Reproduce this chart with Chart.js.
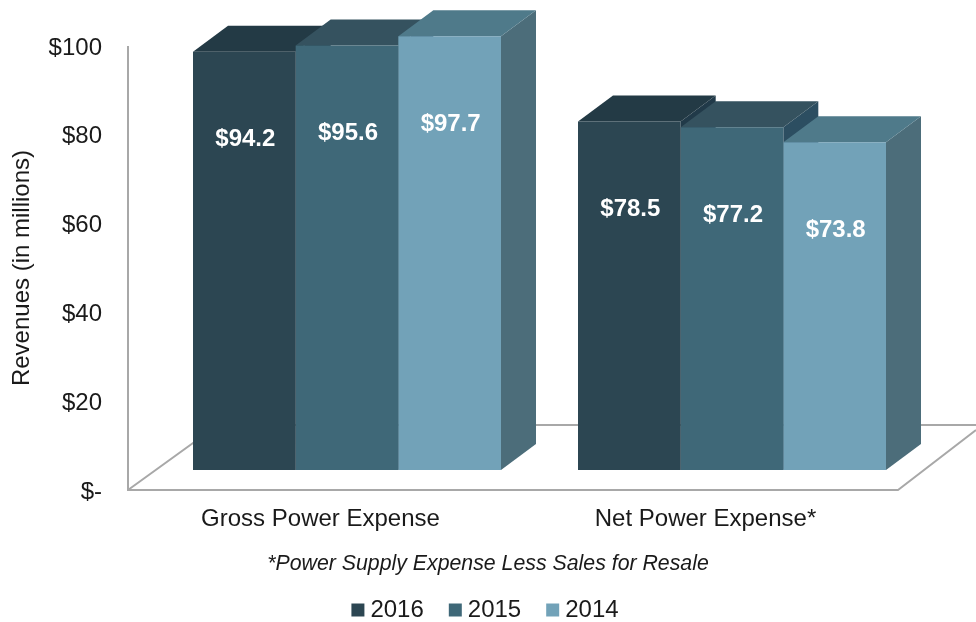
<!DOCTYPE html>
<html>
<head>
<meta charset="utf-8">
<style>
  html, body { margin: 0; padding: 0; background: #fff; }
  #wrap { width: 976px; height: 622px; }
</style>
<script src="https://cdn.jsdelivr.net/npm/chart.js@4"></script>
</head>
<body>
<div id="wrap"><canvas id="miGrafico"></canvas></div>
<script>
const categorias = ['Gross Power Expense', 'Net Power Expense*'];
const anios = ['2016', '2015', '2014'];
const valores2016 = [94.2, 78.5];
const valores2015 = [95.6, 77.2];
const valores2014 = [97.7, 73.8];
const coloresFrente = ['#2c4652', '#3f6878', '#72a2b8'];
const coloresTapa = ['#233a45', '#35525f', '#4f7a8a'];
const coloresLado = ['#213a49', '#2c4e61', '#4c6d7a'];
const nota = '*Power Supply Expense Less Sales for Resale';

const FUENTE = '"Liberation Sans", Arial, sans-serif';
const FONDO_X = 35, FONDO_Y = 26;   // profundidad de cada barra

// piso y eje izquierdo, caras superior y lateral de las barras
const barras3d = {
    id: 'barras3d',
    beforeDatasetsDraw(chart) {
        const { ctx, chartArea: a } = chart;
        const x0 = a.left - 26.5, y0 = a.bottom;
        const yFondo = y0 - 65;
        const xDer = a.right - 26.5;

        ctx.save();
        ctx.strokeStyle = '#a8a8a8';
        ctx.lineWidth = 2;
        ctx.beginPath();
        ctx.moveTo(x0, a.top);
        ctx.lineTo(x0, y0);
        ctx.lineTo(xDer, y0);
        ctx.lineTo(xDer + 78, y0 - 60);
        ctx.moveTo(x0, y0);
        ctx.lineTo(x0 + 90, yFondo);
        ctx.lineTo(chart.width, yFondo);
        ctx.stroke();

        categorias.forEach((_, i) => {
            chart.data.datasets.forEach((ds, d) => {
                const bar = chart.getDatasetMeta(d).data[i];
                const izq = bar.x - bar.width / 2, der = bar.x + bar.width / 2;
                ctx.fillStyle = coloresLado[d];
                ctx.beginPath();
                ctx.moveTo(der, bar.y);
                ctx.lineTo(der + FONDO_X, bar.y - FONDO_Y);
                ctx.lineTo(der + FONDO_X, bar.base - FONDO_Y);
                ctx.lineTo(der, bar.base);
                ctx.closePath();
                ctx.fill();
                ctx.fillStyle = coloresTapa[d];
                ctx.beginPath();
                ctx.moveTo(izq, bar.y);
                ctx.lineTo(izq + FONDO_X, bar.y - FONDO_Y);
                ctx.lineTo(der + FONDO_X, bar.y - FONDO_Y);
                ctx.lineTo(der, bar.y);
                ctx.closePath();
                ctx.fill();
            });
        });
        ctx.restore();
    },
    afterDatasetsDraw(chart) {
        const { ctx } = chart;
        ctx.save();
        ctx.fillStyle = '#fff';
        ctx.font = 'bold 24px ' + FUENTE;
        ctx.textAlign = 'center';
        ctx.textBaseline = 'middle';
        chart.data.datasets.forEach((ds, d) => {
            chart.getDatasetMeta(d).data.forEach((bar, i) => {
                ctx.fillText('$' + ds.data[i].toFixed(1), bar.x + 1, bar.y + 88);
            });
        });
        ctx.restore();
    }
};

const series = [valores2016, valores2015, valores2014];

new Chart(document.getElementById('miGrafico').getContext('2d'), {
    type: 'bar',
    plugins: [barras3d],
    data: {
        labels: categorias,
        datasets: anios.map((anio, d) => ({
            label: anio,
            data: series[d],
            backgroundColor: coloresFrente[d],
            yAxisID: 'yBarras',
            clip: false,
            categoryPercentage: 0.8,
            barPercentage: 1
        }))
    },
    options: {
        responsive: true,
        maintainAspectRatio: false,
        animation: false,
        layout: { padding: { top: 46, left: 0, right: 0, bottom: -10 } },
        font: { family: FUENTE },
        plugins: {
            tooltip: { enabled: false },
            title: {
                display: true,
                text: nota,
                position: 'bottom',
                weight: 500,
                color: '#1a1a1a',
                font: { family: FUENTE, size: 21.3, style: 'italic', weight: 'normal' },
                padding: { top: 16.2, bottom: -9.8 }
            },
            legend: {
                position: 'bottom',
                labels: {
                    usePointStyle: true,
                    pointStyle: 'rect',
                    boxWidth: 1,
                    boxHeight: 13,
                    padding: 31,
                    color: '#1a1a1a',
                    font: { family: FUENTE, size: 24 }
                }
            }
        },
        scales: {
            x: {
                grid: { display: false },
                border: { display: false },
                ticks: { color: '#1a1a1a', padding: 7, labelOffset: -26.5, maxRotation: 0, font: { family: FUENTE, size: 24 } },
                afterFit(scale) { scale.height = 45; }
            },
            y: {
                position: 'left',
                min: 0,
                max: 100,
                grid: { display: false },
                border: { display: false },
                title: {
                    display: true,
                    text: 'Revenues (in millions)',
                    color: '#1a1a1a',
                    font: { family: FUENTE, size: 24 },
                    padding: { top: 8, bottom: 0 }
                },
                ticks: {
                    stepSize: 20,
                    padding: 44.5,
                    labelOffset: 2,
                    color: '#1a1a1a',
                    font: { family: FUENTE, size: 24 },
                    callback: (v) => v === 0 ? '$-' : '$' + v
                },
                afterFit(scale) {
                    scale.width = 154.5;
                    scale.paddingTop = 0;
                    scale.paddingBottom = 0;
                }
            },
            yBarras: {
                position: 'right',
                min: -4.5,
                max: 95.5,
                grid: { display: false },
                border: { display: false },
                ticks: { display: false },
                afterFit(scale) {
                    scale.width = 51.5;
                    scale.paddingTop = 0;
                    scale.paddingBottom = 0;
                }
            }
        }
    }
});
</script>
</body>
</html>
